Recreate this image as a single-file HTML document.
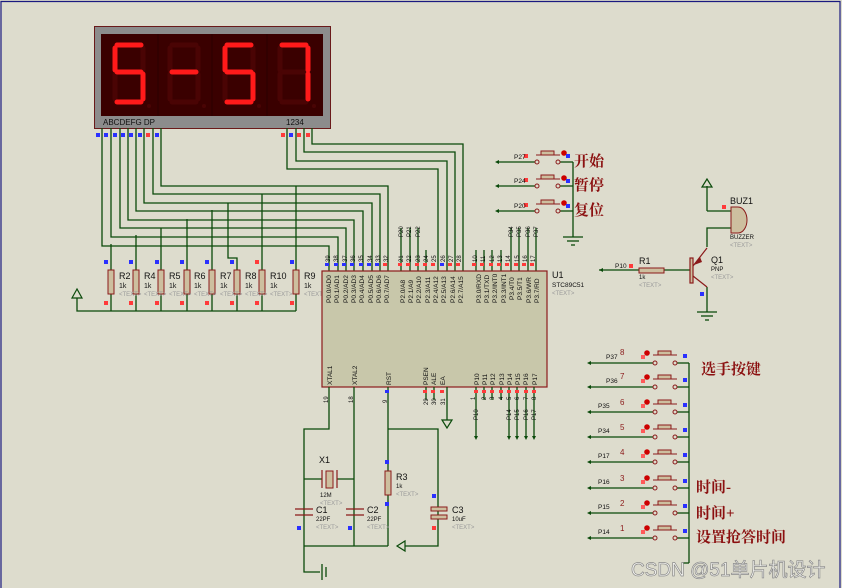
<!DOCTYPE html>
<html><head><meta charset="utf-8"><style>
html,body{margin:0;padding:0;background:#dddccd;}
svg{display:block;font-family:"Liberation Sans","Noto Sans CJK SC",sans-serif;}
.w{stroke:#0a4a0a;stroke-width:1.3;fill:none;}
.r{stroke:#8b1a1a;stroke-width:1.2;fill:none;}
.t{font-size:7px;fill:#111;}
.tg{font-size:6px;fill:#999;}
.cn{font-size:15px;font-weight:bold;fill:#8b1010;font-family:"Liberation Serif","Noto Serif CJK SC",serif;}
.n{font-size:8px;fill:#8b1a1a;}
</style></head><body>
<svg width="842" height="588" viewBox="0 0 842 588" xmlns="http://www.w3.org/2000/svg">
<rect x="0" y="0" width="842" height="588" fill="#dddccd"/>
<polyline points="1,588 1,1.5 840,1.5 840,588" fill="none" stroke="#1a1a80" stroke-width="1.2"/>

<!-- display -->
<rect x="94.5" y="26.5" width="236" height="102" fill="#8c8c8c" stroke="#6a1a1a"/>
<rect x="101" y="34" width="222" height="82" fill="#3a0000"/>
<g stroke="#2a0000"><line x1="158" y1="34" x2="158" y2="116"/><line x1="212" y1="34" x2="212" y2="116"/><line x1="267" y1="34" x2="267" y2="116"/></g>
<g stroke-width="5" stroke-linecap="round">
<g stroke="#4a0404"><line x1="143" y1="48" x2="143" y2="70"/><line x1="115" y1="74" x2="115" y2="99"/></g>
<g stroke="#ff1a1a"><line x1="117" y1="45" x2="141" y2="45"/><line x1="115" y1="48" x2="115" y2="70"/><line x1="117" y1="72" x2="141" y2="72"/><line x1="143" y1="74" x2="143" y2="99"/><line x1="117" y1="102" x2="141" y2="102"/></g>
<g stroke="#4a0404"><line x1="172" y1="45" x2="196" y2="45"/><line x1="170" y1="48" x2="170" y2="70"/><line x1="198" y1="48" x2="198" y2="70"/><line x1="170" y1="74" x2="170" y2="99"/><line x1="198" y1="74" x2="198" y2="99"/><line x1="172" y1="102" x2="196" y2="102"/></g>
<line x1="172" y1="72" x2="196" y2="72" stroke="#ff1a1a"/>
<g stroke="#4a0404"><line x1="253" y1="48" x2="253" y2="70"/><line x1="225" y1="74" x2="225" y2="99"/></g>
<g stroke="#ff1a1a"><line x1="227" y1="45" x2="251" y2="45"/><line x1="225" y1="48" x2="225" y2="70"/><line x1="227" y1="72" x2="251" y2="72"/><line x1="253" y1="74" x2="253" y2="99"/><line x1="227" y1="102" x2="251" y2="102"/></g>
<g stroke="#4a0404"><line x1="280" y1="48" x2="280" y2="70"/><line x1="282" y1="72" x2="306" y2="72"/><line x1="280" y1="74" x2="280" y2="99"/><line x1="282" y1="102" x2="306" y2="102"/></g>
<g stroke="#ff1a1a"><line x1="282" y1="45" x2="306" y2="45"/><line x1="308" y1="48" x2="308" y2="70"/><line x1="308" y1="74" x2="308" y2="99"/></g>
</g>
<g fill="#4a0404"><circle cx="149" cy="106" r="2"/><circle cx="204" cy="106" r="2"/><circle cx="259" cy="106" r="2"/><circle cx="314" cy="106" r="2"/></g>
<text x="103" y="125" font-size="8" fill="#111">ABCDEFG  DP</text>
<text x="286" y="125" font-size="8" fill="#111">1234</text>

<g class="w">
<polyline points="102,128 102,246 329,246 329,271"/>
<polyline points="111,128 111,237 338,237 338,271"/>
<polyline points="120,128 120,228 346,228 346,271"/>
<polyline points="128,128 128,220 354,220 354,271"/>
<polyline points="136,128 136,211 363,211 363,271"/>
<polyline points="144,128 144,203 372,203 372,271"/>
<polyline points="153,128 153,194 380,194 380,271"/>
<polyline points="161,128 161,186 388,186 388,271"/>
<polyline points="287,128 287,169 438,169 438,271"/>
<polyline points="296,128 296,161 447,161 447,271"/>
<polyline points="304,128 304,152 455,152 455,271"/>
<polyline points="312,128 312,144 463,144 463,271"/>
<line x1="111" y1="244" x2="111" y2="311"/>
<line x1="136" y1="235" x2="136" y2="311"/>
<line x1="161" y1="228" x2="161" y2="311"/>
<line x1="187" y1="219" x2="187" y2="311"/>
<line x1="212" y1="210" x2="212" y2="311"/>
<polyline points="228,203 228,258 237,258 237,311"/>
<line x1="262" y1="194" x2="262" y2="311"/>
<line x1="296" y1="186" x2="296" y2="311"/>
<polyline points="77,298 77,311 296,311"/>
<line x1="401" y1="228" x2="401" y2="271"/><line x1="410" y1="228" x2="410" y2="271"/><line x1="418" y1="228" x2="418" y2="271"/>
<line x1="426" y1="250" x2="426" y2="271"/>
<line x1="476" y1="250" x2="476" y2="271"/><line x1="484" y1="250" x2="484" y2="271"/><line x1="492" y1="250" x2="492" y2="271"/><line x1="501" y1="250" x2="501" y2="271"/>
<line x1="511" y1="228" x2="511" y2="271"/><line x1="519" y1="228" x2="519" y2="271"/><line x1="528" y1="228" x2="528" y2="271"/><line x1="536" y1="228" x2="536" y2="271"/>
</g>
<polygon points="77,289 72,298 82,298" fill="none" stroke="#0a4a0a" stroke-width="1.2"/>
<g fill="#2a30ff"><rect x="96" y="133" width="4" height="4"/><rect x="104" y="133" width="4" height="4"/><rect x="113" y="133" width="4" height="4"/><rect x="121" y="133" width="4" height="4"/><rect x="129" y="133" width="4" height="4"/><rect x="138" y="133" width="4" height="4"/><rect x="155" y="133" width="4" height="4"/><rect x="289" y="133" width="4" height="4"/></g>
<g fill="#ff3a3a"><rect x="146" y="133" width="4" height="4"/><rect x="281" y="133" width="4" height="4"/><rect x="297" y="133" width="4" height="4"/><rect x="306" y="133" width="4" height="4"/></g>

<g fill="#cdbf9f" stroke="#8b1a1a" stroke-width="1">
<rect x="108" y="270" width="6" height="24"/><rect x="133" y="270" width="6" height="24"/><rect x="158" y="270" width="6" height="24"/><rect x="184" y="270" width="6" height="24"/><rect x="209" y="270" width="6" height="24"/><rect x="234" y="270" width="6" height="24"/><rect x="259" y="270" width="6" height="24"/><rect x="293" y="270" width="6" height="24"/>
</g>
<g fill="#2a30ff"><rect x="104" y="260" width="4" height="4"/><rect x="129" y="260" width="4" height="4"/><rect x="155" y="260" width="4" height="4"/><rect x="180" y="260" width="4" height="4"/><rect x="205" y="260" width="4" height="4"/><rect x="230" y="260" width="4" height="4"/><rect x="290" y="260" width="4" height="4"/></g>
<rect x="255" y="260" width="4" height="4" fill="#ff3a3a"/>
<g fill="#ff3a3a"><rect x="104" y="301" width="4" height="4"/><rect x="129" y="301" width="4" height="4"/><rect x="155" y="301" width="4" height="4"/><rect x="180" y="301" width="4" height="4"/><rect x="205" y="301" width="4" height="4"/><rect x="230" y="301" width="4" height="4"/><rect x="255" y="301" width="4" height="4"/><rect x="290" y="301" width="4" height="4"/></g>
<g font-size="9" fill="#111">
<text x="119" y="279">R2</text><text x="144" y="279">R4</text><text x="169" y="279">R5</text><text x="194" y="279">R6</text><text x="220" y="279">R7</text><text x="245" y="279">R8</text><text x="270" y="279">R10</text><text x="304" y="279">R9</text>
</g>
<g class="t"><text x="119" y="288">1k</text><text x="144" y="288">1k</text><text x="169" y="288">1k</text><text x="194" y="288">1k</text><text x="220" y="288">1k</text><text x="245" y="288">1k</text><text x="270" y="288">1k</text><text x="304" y="288">1k</text></g>
<g class="tg"><text x="119" y="296">&lt;TEXT&gt;</text><text x="144" y="296">&lt;TEXT&gt;</text><text x="169" y="296">&lt;TEXT&gt;</text><text x="194" y="296">&lt;TEXT&gt;</text><text x="220" y="296">&lt;TEXT&gt;</text><text x="245" y="296">&lt;TEXT&gt;</text><text x="270" y="296">&lt;TEXT&gt;</text><text x="304" y="296">&lt;TEXT&gt;</text></g>

<rect x="322" y="271" width="225" height="116" fill="#c8c7aa" stroke="#8b1a1a" stroke-width="1.2"/>
<g fill="#2a30ff"><rect x="325" y="263" width="4" height="3"/><rect x="334" y="263" width="4" height="3"/><rect x="342" y="263" width="4" height="3"/><rect x="350" y="263" width="4" height="3"/><rect x="359" y="263" width="4" height="3"/><rect x="367" y="263" width="4" height="3"/><rect x="375" y="263" width="4" height="3"/><rect x="440" y="263" width="4" height="3"/></g>
<g fill="#ff3a3a"><rect x="383" y="263" width="4" height="3"/><rect x="398" y="263" width="4" height="3"/><rect x="406" y="263" width="4" height="3"/><rect x="415" y="263" width="4" height="3"/><rect x="423" y="263" width="4" height="3"/><rect x="431" y="263" width="4" height="3"/><rect x="448" y="263" width="4" height="3"/><rect x="456" y="263" width="4" height="3"/><rect x="472" y="263" width="4" height="3"/><rect x="480" y="263" width="4" height="3"/><rect x="489" y="263" width="4" height="3"/><rect x="497" y="263" width="4" height="3"/><rect x="505" y="263" width="4" height="3"/><rect x="514" y="263" width="4" height="3"/><rect x="522" y="263" width="4" height="3"/><rect x="530" y="263" width="4" height="3"/></g>
<g font-size="6" fill="#111">
<text transform="translate(330,262) rotate(-90)">39</text><text transform="translate(338,262) rotate(-90)">38</text><text transform="translate(347,262) rotate(-90)">37</text><text transform="translate(355,262) rotate(-90)">36</text><text transform="translate(363,262) rotate(-90)">35</text><text transform="translate(372,262) rotate(-90)">34</text><text transform="translate(380,262) rotate(-90)">33</text><text transform="translate(388,262) rotate(-90)">32</text>
<text transform="translate(403,262) rotate(-90)">21</text><text transform="translate(411,262) rotate(-90)">22</text><text transform="translate(420,262) rotate(-90)">23</text><text transform="translate(428,262) rotate(-90)">24</text><text transform="translate(436,262) rotate(-90)">25</text><text transform="translate(445,262) rotate(-90)">26</text><text transform="translate(453,262) rotate(-90)">27</text><text transform="translate(461,262) rotate(-90)">28</text>
<text transform="translate(477,262) rotate(-90)">10</text><text transform="translate(485,262) rotate(-90)">11</text><text transform="translate(494,262) rotate(-90)">12</text><text transform="translate(502,262) rotate(-90)">13</text><text transform="translate(510,262) rotate(-90)">14</text><text transform="translate(519,262) rotate(-90)">15</text><text transform="translate(527,262) rotate(-90)">16</text><text transform="translate(535,262) rotate(-90)">17</text>
<text transform="translate(403,237) rotate(-90)">P20</text><text transform="translate(411,237) rotate(-90)">P21</text><text transform="translate(420,237) rotate(-90)">P22</text>
<text transform="translate(513,237) rotate(-90)">P34</text><text transform="translate(521,237) rotate(-90)">P35</text><text transform="translate(530,237) rotate(-90)">P36</text><text transform="translate(538,237) rotate(-90)">P37</text>
</g>
<g font-size="6.5" fill="#111">
<text transform="translate(331,303) rotate(-90)">P0.0/AD0</text><text transform="translate(339,303) rotate(-90)">P0.1/AD1</text><text transform="translate(348,303) rotate(-90)">P0.2/AD2</text><text transform="translate(356,303) rotate(-90)">P0.3/AD3</text><text transform="translate(364,303) rotate(-90)">P0.4/AD4</text><text transform="translate(373,303) rotate(-90)">P0.5/AD5</text><text transform="translate(381,303) rotate(-90)">P0.6/AD6</text><text transform="translate(389,303) rotate(-90)">P0.7/AD7</text>
<text transform="translate(405,303) rotate(-90)">P2.0/A8</text><text transform="translate(413,303) rotate(-90)">P2.1/A9</text><text transform="translate(421,303) rotate(-90)">P2.2/A10</text><text transform="translate(430,303) rotate(-90)">P2.3/A11</text><text transform="translate(438,303) rotate(-90)">P2.4/A12</text><text transform="translate(446,303) rotate(-90)">P2.5/A13</text><text transform="translate(455,303) rotate(-90)">P2.6/A14</text><text transform="translate(463,303) rotate(-90)">P2.7/A15</text>
<text transform="translate(481,303) rotate(-90)">P3.0/RXD</text><text transform="translate(489,303) rotate(-90)">P3.1/TXD</text><text transform="translate(497,303) rotate(-90)">P3.2/INT0</text><text transform="translate(506,303) rotate(-90)">P3.3/INT1</text><text transform="translate(514,300) rotate(-90)">P3.4/T0</text><text transform="translate(522,300) rotate(-90)">P3.5/T1</text><text transform="translate(531,303) rotate(-90)">P3.6/WR</text><text transform="translate(539,303) rotate(-90)">P3.7/RD</text>
<text transform="translate(332,385) rotate(-90)">XTAL1</text><text transform="translate(357,385) rotate(-90)">XTAL2</text><text transform="translate(391,385) rotate(-90)">RST</text>
<text transform="translate(428,385) rotate(-90)">PSEN</text><text transform="translate(436,385) rotate(-90)">ALE</text><text transform="translate(445,385) rotate(-90)">EA</text>
<text transform="translate(479,385) rotate(-90)">P10</text><text transform="translate(487,385) rotate(-90)">P11</text><text transform="translate(495,385) rotate(-90)">P12</text><text transform="translate(504,385) rotate(-90)">P13</text><text transform="translate(512,385) rotate(-90)">P14</text><text transform="translate(520,385) rotate(-90)">P15</text><text transform="translate(528,385) rotate(-90)">P16</text><text transform="translate(537,385) rotate(-90)">P17</text>
</g>
<text x="552" y="278" font-size="9" fill="#111">U1</text>
<text x="552" y="287" font-size="6.5" fill="#111">STC89C51</text>
<text x="552" y="295" class="tg">&lt;TEXT&gt;</text>

<g class="w">
<polyline points="329,387 329,429 304,429 304,572 320,572"/>
<line x1="354" y1="387" x2="354" y2="546"/>
<line x1="388" y1="387" x2="388" y2="546"/>
<polyline points="388,429 438,429 438,546 405,546"/>
<line x1="304" y1="546" x2="388" y2="546"/>
<line x1="304" y1="479" x2="322" y2="479"/><line x1="337" y1="479" x2="354" y2="479"/>
<line x1="426" y1="387" x2="426" y2="400"/><line x1="434" y1="387" x2="434" y2="400"/>
<line x1="447" y1="387" x2="447" y2="420"/>
<line x1="476" y1="387" x2="476" y2="438"/><line x1="484" y1="387" x2="484" y2="400"/><line x1="492" y1="387" x2="492" y2="400"/><line x1="501" y1="387" x2="501" y2="400"/>
<line x1="509" y1="387" x2="509" y2="438"/><line x1="517" y1="387" x2="517" y2="438"/><line x1="526" y1="387" x2="526" y2="438"/><line x1="534" y1="387" x2="534" y2="438"/>
<line x1="322" y1="564" x2="322" y2="580"/><line x1="326" y1="567" x2="326" y2="577"/>
</g>
<polygon points="447,428 442,420 452,420" fill="none" stroke="#0a4a0a" stroke-width="1.2"/>
<polygon points="397,546 405,541 405,551" fill="none" stroke="#0a4a0a" stroke-width="1.2"/>
<g fill="#0a4a0a"><polygon points="476,440 474,436 478,436"/><polygon points="509,440 507,436 511,436"/><polygon points="517,440 515,436 519,436"/><polygon points="526,440 524,436 528,436"/><polygon points="534,440 532,436 536,436"/></g>
<rect x="385" y="390" width="4" height="3" fill="#2a30ff"/>
<g fill="#ff3a3a"><rect x="423" y="390" width="4" height="3"/><rect x="431" y="390" width="4" height="3"/><rect x="440" y="390" width="4" height="3"/><rect x="474" y="390" width="4" height="3"/><rect x="482" y="390" width="4" height="3"/><rect x="490" y="390" width="4" height="3"/><rect x="499" y="390" width="4" height="3"/><rect x="507" y="390" width="4" height="3"/><rect x="515" y="390" width="4" height="3"/><rect x="524" y="390" width="4" height="3"/><rect x="532" y="390" width="4" height="3"/></g>
<g font-size="6" fill="#111">
<text transform="translate(328,403) rotate(-90)">19</text><text transform="translate(353,403) rotate(-90)">18</text><text transform="translate(387,403) rotate(-90)">9</text>
<text transform="translate(428,405) rotate(-90)">29</text><text transform="translate(436,405) rotate(-90)">30</text><text transform="translate(445,405) rotate(-90)">31</text>
<text transform="translate(475,400) rotate(-90)">1</text><text transform="translate(486,400) rotate(-90)">2</text><text transform="translate(494,400) rotate(-90)">3</text><text transform="translate(503,400) rotate(-90)">4</text><text transform="translate(511,400) rotate(-90)">5</text><text transform="translate(519,400) rotate(-90)">6</text><text transform="translate(528,400) rotate(-90)">7</text><text transform="translate(536,400) rotate(-90)">8</text>
<text transform="translate(478,420) rotate(-90)">P10</text><text transform="translate(511,420) rotate(-90)">P14</text><text transform="translate(519,420) rotate(-90)">P15</text><text transform="translate(528,420) rotate(-90)">P16</text><text transform="translate(536,420) rotate(-90)">P17</text>
</g>

<g class="r"><line x1="322" y1="470" x2="322" y2="488"/><line x1="337" y1="470" x2="337" y2="488"/>
<line x1="295" y1="509" x2="313" y2="509"/><line x1="295" y1="515" x2="313" y2="515"/><line x1="346" y1="509" x2="364" y2="509"/><line x1="346" y1="515" x2="364" y2="515"/></g>
<rect x="326" y="471" width="7" height="17" fill="#cdbf9f" stroke="#8b1a1a"/>
<rect x="385" y="471" width="6" height="24" fill="#cdbf9f" stroke="#8b1a1a"/>
<rect x="431" y="507" width="16" height="4" fill="#cdbf9f" stroke="#8b1a1a"/>
<rect x="431" y="515" width="16" height="4" fill="#cdbf9f" stroke="#8b1a1a"/>
<rect x="385" y="460" width="4" height="4" fill="#2a30ff"/><rect x="385" y="502" width="4" height="4" fill="#2a30ff"/>
<rect x="297" y="526" width="4" height="4" fill="#2a30ff"/><rect x="348" y="526" width="4" height="4" fill="#2a30ff"/>
<rect x="432" y="494" width="4" height="4" fill="#2a30ff"/><rect x="432" y="526" width="4" height="4" fill="#ff3a3a"/>
<text x="319" y="463" font-size="9" fill="#111">X1</text>
<text x="320" y="497" font-size="6" fill="#111">12M</text>
<text x="320" y="505" class="tg">&lt;TEXT&gt;</text>
<text x="316" y="513" font-size="9" fill="#111">C1</text><text x="316" y="521" font-size="6" fill="#111">22PF</text><text x="316" y="529" class="tg">&lt;TEXT&gt;</text>
<text x="367" y="513" font-size="9" fill="#111">C2</text><text x="367" y="521" font-size="6" fill="#111">22PF</text><text x="367" y="529" class="tg">&lt;TEXT&gt;</text>
<text x="396" y="480" font-size="9" fill="#111">R3</text><text x="396" y="488" font-size="6" fill="#111">1k</text><text x="396" y="496" class="tg">&lt;TEXT&gt;</text>
<text x="452" y="513" font-size="9" fill="#111">C3</text><text x="452" y="521" font-size="6" fill="#111">10uF</text><text x="452" y="529" class="tg">&lt;TEXT&gt;</text>

<g class="w">
<line x1="497" y1="162" x2="535" y2="162"/><line x1="560" y1="162" x2="573" y2="162"/>
<line x1="497" y1="186" x2="535" y2="186"/><line x1="560" y1="186" x2="573" y2="186"/>
<line x1="497" y1="211" x2="535" y2="211"/><line x1="560" y1="211" x2="573" y2="211"/>
<line x1="573" y1="162" x2="573" y2="237"/>
<line x1="563" y1="237" x2="583" y2="237"/><line x1="567" y1="241" x2="579" y2="241"/><line x1="571" y1="245" x2="575" y2="245"/>
</g>
<g fill="none" stroke="#8b1a1a" stroke-width="1">
<circle cx="537" cy="162" r="2"/><circle cx="558" cy="162" r="2"/><circle cx="537" cy="186" r="2"/><circle cx="558" cy="186" r="2"/><circle cx="537" cy="211" r="2"/><circle cx="558" cy="211" r="2"/>
<line x1="536" y1="155" x2="560" y2="155"/><line x1="536" y1="179" x2="560" y2="179"/><line x1="536" y1="204" x2="560" y2="204"/>
</g>
<g fill="#cdbf9f" stroke="#8b1a1a"><rect x="541" y="151" width="13" height="4"/><rect x="541" y="175" width="13" height="4"/><rect x="541" y="200" width="13" height="4"/></g>
<g fill="#cc0000"><circle cx="564" cy="153" r="2.8"/><circle cx="564" cy="178" r="2.8"/><circle cx="564" cy="203" r="2.8"/></g>
<g fill="#2a30ff"><rect x="566" y="154" width="4" height="4"/><rect x="566" y="179" width="4" height="4"/><rect x="566" y="204" width="4" height="4"/></g>
<g fill="#ff3a3a"><rect x="524" y="154" width="4" height="4"/><rect x="524" y="178" width="4" height="4"/><rect x="524" y="203" width="4" height="4"/></g>
<g font-size="6.5" fill="#111"><text x="514" y="159">P27</text><text x="514" y="183">P24</text><text x="514" y="208">P20</text></g>
<g fill="#0a4a0a"><polygon points="495,162 499,160 499,164"/><polygon points="495,186 499,184 499,188"/><polygon points="495,211 499,209 499,213"/></g>
<text x="574" y="166" class="cn">开始</text>
<text x="574" y="190" class="cn">暂停</text>
<text x="574" y="215" class="cn">复位</text>

<g class="w">
<line x1="599" y1="270" x2="639" y2="270"/><line x1="664" y1="270" x2="690" y2="270"/>
<polyline points="707,247 707,228 733,228"/>
<polyline points="707,211 707,186"/><line x1="707" y1="211" x2="732" y2="211"/>
<polyline points="707,287 707,312"/>
<line x1="697" y1="312" x2="717" y2="312"/><line x1="701" y1="316" x2="713" y2="316"/><line x1="705" y1="320" x2="709" y2="320"/>
</g>
<polygon points="599,270 603,268 603,272" fill="#0a4a0a"/>
<polygon points="707,179 702,187 712,187" fill="none" stroke="#0a4a0a" stroke-width="1.2"/>
<rect x="639" y="268" width="25" height="5" fill="#cdbf9f" stroke="#8b1a1a"/>
<g class="r"><rect x="690" y="258" width="3" height="25" fill="#cdbf9f"/><line x1="693" y1="266" x2="707" y2="248"/><line x1="693" y1="276" x2="707" y2="287"/></g>
<polygon points="694,265 700,257 702,262" fill="#8b1a1a"/>
<path d="M731,207 L738,207 A9,13 0 0 1 738,233 L731,233 Z" fill="#cdbf9f" stroke="#8b1a1a"/>
<rect x="722" y="205" width="4" height="4" fill="#ff3a3a"/>
<rect x="700" y="292" width="4" height="4" fill="#2a30ff"/>
<rect x="629" y="264" width="4" height="4" fill="#ff3a3a"/>
<text x="615" y="268" font-size="6.5" fill="#111">P10</text>
<text x="639" y="264" font-size="9" fill="#111">R1</text><text x="639" y="279" font-size="6" fill="#111">1k</text><text x="639" y="287" class="tg">&lt;TEXT&gt;</text>
<text x="711" y="263" font-size="9" fill="#111">Q1</text><text x="711" y="271" font-size="6" fill="#111">PNP</text><text x="711" y="279" class="tg">&lt;TEXT&gt;</text>
<text x="730" y="204" font-size="9" fill="#111">BUZ1</text><text x="730" y="239" font-size="6" fill="#111">BUZZER</text><text x="730" y="247" class="tg">&lt;TEXT&gt;</text>

<g class="w">
<line x1="689" y1="363" x2="689" y2="563"/><line x1="682" y1="563" x2="689" y2="563"/>
<line x1="589" y1="363" x2="653" y2="363"/><line x1="677" y1="363" x2="689" y2="363"/>
<line x1="589" y1="387" x2="653" y2="387"/><line x1="677" y1="387" x2="689" y2="387"/>
<line x1="589" y1="412" x2="653" y2="412"/><line x1="677" y1="412" x2="689" y2="412"/>
<line x1="589" y1="437" x2="653" y2="437"/><line x1="677" y1="437" x2="689" y2="437"/>
<line x1="589" y1="462" x2="653" y2="462"/><line x1="677" y1="462" x2="689" y2="462"/>
<line x1="589" y1="488" x2="653" y2="488"/><line x1="677" y1="488" x2="689" y2="488"/>
<line x1="589" y1="513" x2="653" y2="513"/><line x1="677" y1="513" x2="689" y2="513"/>
<line x1="589" y1="538" x2="653" y2="538"/><line x1="677" y1="538" x2="689" y2="538"/>
</g>
<g fill="#0a4a0a"><polygon points="587,363 591,361 591,365"/><polygon points="587,387 591,385 591,389"/><polygon points="587,412 591,410 591,414"/><polygon points="587,437 591,435 591,439"/><polygon points="587,462 591,460 591,464"/><polygon points="587,488 591,486 591,490"/><polygon points="587,513 591,511 591,515"/><polygon points="587,538 591,536 591,540"/></g>
<g fill="#dddccd" stroke="#8b1a1a" stroke-width="1">
<circle cx="655" cy="363" r="2"/><circle cx="675" cy="363" r="2"/><circle cx="655" cy="387" r="2"/><circle cx="675" cy="387" r="2"/><circle cx="655" cy="412" r="2"/><circle cx="675" cy="412" r="2"/><circle cx="655" cy="437" r="2"/><circle cx="675" cy="437" r="2"/><circle cx="655" cy="462" r="2"/><circle cx="675" cy="462" r="2"/><circle cx="655" cy="488" r="2"/><circle cx="675" cy="488" r="2"/><circle cx="655" cy="513" r="2"/><circle cx="675" cy="513" r="2"/><circle cx="655" cy="538" r="2"/><circle cx="675" cy="538" r="2"/>
</g>
<g stroke="#8b1a1a"><line x1="653" y1="355" x2="677" y2="355"/><line x1="653" y1="379" x2="677" y2="379"/><line x1="653" y1="404" x2="677" y2="404"/><line x1="653" y1="429" x2="677" y2="429"/><line x1="653" y1="454" x2="677" y2="454"/><line x1="653" y1="480" x2="677" y2="480"/><line x1="653" y1="505" x2="677" y2="505"/><line x1="653" y1="530" x2="677" y2="530"/></g>
<g fill="#cdbf9f" stroke="#8b1a1a"><rect x="658" y="351" width="13" height="4"/><rect x="658" y="375" width="13" height="4"/><rect x="658" y="400" width="13" height="4"/><rect x="658" y="425" width="13" height="4"/><rect x="658" y="450" width="13" height="4"/><rect x="658" y="476" width="13" height="4"/><rect x="658" y="501" width="13" height="4"/><rect x="658" y="526" width="13" height="4"/></g>
<g fill="#cc0000"><circle cx="647" cy="353" r="2.8"/><circle cx="647" cy="377" r="2.8"/><circle cx="647" cy="402" r="2.8"/><circle cx="647" cy="427" r="2.8"/><circle cx="647" cy="452" r="2.8"/><circle cx="647" cy="478" r="2.8"/><circle cx="647" cy="503" r="2.8"/><circle cx="647" cy="528" r="2.8"/></g>
<g fill="#ff5a5a"><rect x="641" y="355" width="4" height="4"/><rect x="641" y="379" width="4" height="4"/><rect x="641" y="404" width="4" height="4"/><rect x="641" y="429" width="4" height="4"/><rect x="641" y="454" width="4" height="4"/><rect x="641" y="480" width="4" height="4"/><rect x="641" y="505" width="4" height="4"/><rect x="641" y="530" width="4" height="4"/></g>
<g fill="#2a30ff"><rect x="683" y="354" width="4" height="4"/><rect x="683" y="378" width="4" height="4"/><rect x="683" y="403" width="4" height="4"/><rect x="683" y="428" width="4" height="4"/><rect x="683" y="453" width="4" height="4"/><rect x="683" y="479" width="4" height="4"/><rect x="683" y="504" width="4" height="4"/><rect x="683" y="529" width="4" height="4"/></g>
<g font-size="6.5" fill="#111"><text x="606" y="359">P37</text><text x="606" y="383">P36</text><text x="598" y="408">P35</text><text x="598" y="433">P34</text><text x="598" y="458">P17</text><text x="598" y="484">P16</text><text x="598" y="509">P15</text><text x="598" y="534">P14</text></g>
<g class="n"><text x="620" y="355">8</text><text x="620" y="379">7</text><text x="620" y="405">6</text><text x="620" y="430">5</text><text x="620" y="455">4</text><text x="620" y="481">3</text><text x="620" y="506">2</text><text x="620" y="531">1</text></g>
<text x="701" y="374" class="cn" font-size="14">选手按键</text>
<text x="696" y="492" class="cn" font-size="14">时间-</text>
<text x="696" y="518" class="cn" font-size="14">时间+</text>
<text x="696" y="542" class="cn" font-size="14">设置抢答时间</text>

<text x="631" y="576" font-size="19" fill="#f4f4f0" stroke="#8a8a8a" stroke-width="0.7" font-family="Liberation Sans, Noto Sans CJK SC, sans-serif">CSDN @51单片机设计</text>
</svg>
</body></html>
